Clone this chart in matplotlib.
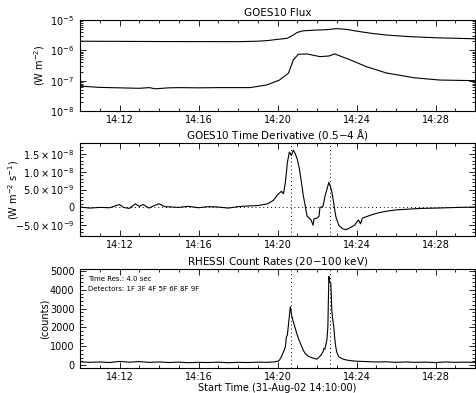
import matplotlib
matplotlib.use("Agg")
import matplotlib.pyplot as plt
from matplotlib.ticker import MultipleLocator

# ---- data (time in minutes after 14:10:00) ----
goes_long_t = [0, 4, 8, 9, 9.5, 10, 10.5, 10.8, 11.0, 11.3, 11.8, 12.5, 13.0, 13.5, 14.0, 14.8, 15.5, 16.6, 18.0, 19.0, 20.0]
goes_long = [2.0e-6, 1.95e-6, 1.93e-6, 2.0e-6, 2.1e-6, 2.3e-6, 2.5e-6, 3.2e-6, 3.9e-6, 4.4e-6, 4.6e-6, 4.8e-6, 5.2e-6, 4.9e-6, 4.3e-6, 3.6e-6, 3.2e-6, 2.85e-6, 2.6e-6, 2.5e-6, 2.4e-6]

goes_short_t = [0, 0.5, 1, 2, 3, 3.5, 3.8, 4.5, 5, 6, 7, 8, 8.6, 9.45, 10.1, 10.55, 10.8, 11.05, 11.5, 12.15, 12.6, 12.9, 13.7, 14.5, 15.5, 16.9, 18.2, 20.0]
goes_short = [6.6e-8, 6.3e-8, 6.0e-8, 5.8e-8, 5.6e-8, 5.9e-8, 5.4e-8, 5.8e-8, 5.9e-8, 5.8e-8, 5.9e-8, 5.9e-8, 5.9e-8, 7.2e-8, 1.05e-7, 1.75e-7, 4.8e-7, 7.4e-7, 7.6e-7, 6.2e-7, 6.5e-7, 7.6e-7, 4.8e-7, 2.9e-7, 1.8e-7, 1.25e-7, 1.05e-7, 1.0e-7]

deriv_t = [0, 0.5, 1.0, 1.5, 2.0, 2.2, 2.5, 2.8, 3.0, 3.2, 3.5, 3.8, 4.0, 4.3, 5.0, 5.5, 6.0, 6.5, 7.0, 7.5, 8.0, 8.5, 9.0, 9.5, 9.8,
           10.0, 10.2, 10.3, 10.4, 10.5, 10.6, 10.7, 10.8, 10.9, 11.0, 11.1, 11.2, 11.3, 11.4, 11.5, 11.6, 11.7, 11.8, 11.85,
           12.0, 12.1, 12.15, 12.3, 12.4, 12.5, 12.6, 12.65, 12.75, 12.85, 12.95, 13.1, 13.3, 13.5, 13.7, 13.9, 14.0, 14.1,
           14.2, 14.3, 14.5, 14.8, 15.2, 15.6, 16.0, 16.6, 17.2, 18.0, 18.6, 19.2, 20.0]
deriv = [0.1, -0.2, 0.0, -0.1, 0.8, 0.0, -0.3, 1.0, 0.3, 0.8, -0.2, 0.6, 1.0, 0.2, 0.0, 0.3, -0.1, 0.2, 0.1, -0.2, 0.2, 0.4, 0.5, 1.0, 2.0,
         3.5, 4.5, 3.8, 7.0, 12.5, 15.5, 14.5, 16.0, 15.0, 13.5, 11.0, 7.5, 3.5, 0.5, -2.5, -3.0, -3.5, -5.0, -3.2,
         -3.0, -2.5, 0.0, 0.2, 3.0, 5.0, 7.0, 6.3, 4.5, 1.0, -2.5, -5.0, -6.0, -6.2, -5.6, -5.0, -4.2, -3.5,
         -4.6, -3.0, -2.6, -2.0, -1.4, -1.0, -0.7, -0.5, -0.3, -0.2, -0.1, 0.0, 0.1]  # units of 1e-9

rhessi_t = [0, 0.5, 1.0, 1.5, 2.0, 2.5, 3.0, 3.5, 4.0, 4.5, 5.0, 5.5, 6.0, 6.5, 7.0, 7.5, 8.0, 8.5, 9.0, 9.5, 9.8,
            10.0, 10.1, 10.2, 10.3, 10.4, 10.45, 10.5, 10.55, 10.6, 10.65, 10.7, 10.75, 10.8, 10.9, 11.0, 11.1, 11.2,
            11.3, 11.4, 11.5, 11.6, 11.7, 11.8, 11.9, 12.0, 12.1, 12.2, 12.3, 12.35, 12.4, 12.45, 12.5, 12.55, 12.6,
            12.65, 12.7, 12.75, 12.8, 12.85, 12.9, 12.95, 13.0, 13.1, 13.3, 13.5, 13.8, 14.0, 14.5, 15.0, 15.5, 16.0,
            16.5, 17.0, 17.5, 18.0, 18.5, 19.0, 19.5, 20.0]
rhessi = [180, 150, 170, 140, 200, 160, 190, 150, 170, 140, 160, 130, 150, 140, 160, 130, 150, 140, 160, 150, 170,
          200, 270, 450, 700, 970, 1500, 1600, 2100, 2600, 3100, 2750, 2500, 2300, 1950, 1600, 1300, 1060,
          800, 620, 520, 450, 410, 380, 340, 320, 420, 530, 700, 890, 850, 1100, 1330, 2040, 4700,
          4400, 4350, 2900, 2400, 2040, 1400, 970, 700, 440, 330, 270, 230, 210, 190, 170, 180, 150,
          170, 150, 160, 140, 170, 150, 160, 150]

vlines_t = [10.67, 12.67]
xtick_pos = [2, 6, 10, 14, 18]
xtick_labels = ["14:12", "14:16", "14:20", "14:24", "14:28"]

fig = plt.figure(figsize=(4.76, 3.93), dpi=100)
W, H = 476, 393
def ax_at(x0, y0, x1, y1):
    return fig.add_axes([x0 / W, 1 - y1 / H, (x1 - x0) / W, (y1 - y0) / H])

FS = 7
lw = 0.8
ax1 = ax_at(80, 20, 475, 111)
ax2 = ax_at(80, 143, 475, 236)
ax3 = ax_at(80, 269, 475, 368)

for ax in (ax1, ax2, ax3):
    ax.set_xlim(0, 20)
    ax.set_xticks(xtick_pos)
    ax.set_xticklabels(xtick_labels, fontsize=FS)
    ax.xaxis.set_minor_locator(MultipleLocator(1))
    ax.tick_params(which="both", direction="in", top=True, right=True, width=0.6, labelsize=FS, pad=4)
    ax.tick_params(axis="x", which="both", pad=3)
    ax.tick_params(which="major", length=4)
    ax.tick_params(which="minor", length=2)
    for s in ax.spines.values():
        s.set_linewidth(0.8)

# Panel 1
ax1.semilogy(goes_long_t, goes_long, color="black", lw=lw)
ax1.semilogy(goes_short_t, goes_short, color="black", lw=lw)
ax1.set_ylim(1e-8, 1e-5)
ax1.set_title("GOES10 Flux", fontsize=7.5, pad=3)
ax1.set_ylabel(r"(W m$^{-2}$)", fontsize=FS)
ax1.yaxis.set_label_coords(-0.084, 0.5)

# Panel 2
d = [v * 1e-9 for v in deriv]
ax2.plot(deriv_t, d, color="black", lw=lw)
ax2.set_ylim(-8e-9, 1.8e-8)
ax2.set_yticks([-5e-9, 0, 5e-9, 1e-8, 1.5e-8])
ax2.set_yticklabels([r"$-5.0\times10^{-9}$", "0", r"$5.0\times10^{-9}$", r"$1.0\times10^{-8}$", r"$1.5\times10^{-8}$"], fontsize=FS)
ax2.yaxis.set_minor_locator(MultipleLocator(1e-9))
ax2.axhline(0, color="black", lw=0.7, ls=(0, (1, 3)))
for t in vlines_t:
    ax2.axvline(t, color="black", lw=0.7, ls=(0, (1, 3)))
ax2.set_title(r"GOES10 Time Derivative (0.5$-$4 Å)", fontsize=7.5, pad=3)
ax2.set_ylabel(r"(W m$^{-2}$ s$^{-1}$)", fontsize=FS)
ax2.yaxis.set_label_coords(-0.150, 0.5)

# Panel 3
ax3.plot(rhessi_t, rhessi, color="black", lw=lw)
ax3.set_ylim(-150, 5100)
ax3.set_yticks([0, 1000, 2000, 3000, 4000, 5000])
ax3.yaxis.set_minor_locator(MultipleLocator(200))
for t in vlines_t:
    ax3.axvline(t, color="black", lw=0.7, ls=(0, (1, 3)))
ax3.set_title(r"RHESSI Count Rates (20$-$100 keV)", fontsize=7.5, pad=3)
ax3.set_ylabel("(counts)", fontsize=FS)
ax3.yaxis.set_label_coords(-0.076, 0.5)
fig.text(277.5 / W, 1 - 388 / H, "Start Time (31-Aug-02 14:10:00)", fontsize=7, ha="center", va="center")
ax3.text(0.02, 0.93, "Time Res.: 4.0 sec", transform=ax3.transAxes, fontsize=5, va="top")
ax3.text(0.02, 0.83, "Detectors: 1F 3F 4F 5F 6F 8F 9F", transform=ax3.transAxes, fontsize=5, va="top")

fig.savefig("out.png", dpi=100)
